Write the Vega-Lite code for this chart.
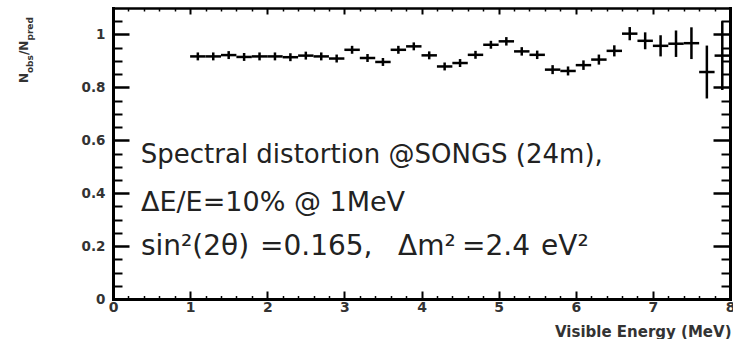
{
  "$schema": "https://vega.github.io/schema/vega-lite/v6.json",
  "width": 617,
  "height": 291,
  "autosize": "none",
  "padding": {"left": 113, "top": 8, "right": 3, "bottom": 40},
  "background": "white",
  "view": {"stroke": null},
  "config": {"font": "DejaVu Sans", "text": {"font": "DejaVu Sans", "fontSize": 27, "color": "#222", "align": "left", "baseline": "alphabetic"}},
  "datasets": {
    "ratio": [
      {"e": 1.1, "e_lo": 1.0, "e_hi": 1.2, "ratio": 0.917, "err": 0.015},
      {"e": 1.3, "e_lo": 1.2, "e_hi": 1.4, "ratio": 0.917, "err": 0.015},
      {"e": 1.5, "e_lo": 1.4, "e_hi": 1.6, "ratio": 0.922, "err": 0.015},
      {"e": 1.7, "e_lo": 1.6, "e_hi": 1.8, "ratio": 0.915, "err": 0.015},
      {"e": 1.9, "e_lo": 1.8, "e_hi": 2.0, "ratio": 0.917, "err": 0.015},
      {"e": 2.1, "e_lo": 2.0, "e_hi": 2.2, "ratio": 0.917, "err": 0.015},
      {"e": 2.3, "e_lo": 2.2, "e_hi": 2.4, "ratio": 0.914, "err": 0.015},
      {"e": 2.5, "e_lo": 2.4, "e_hi": 2.6, "ratio": 0.920, "err": 0.015},
      {"e": 2.7, "e_lo": 2.6, "e_hi": 2.8, "ratio": 0.917, "err": 0.015},
      {"e": 2.9, "e_lo": 2.8, "e_hi": 3.0, "ratio": 0.909, "err": 0.015},
      {"e": 3.1, "e_lo": 3.0, "e_hi": 3.2, "ratio": 0.942, "err": 0.015},
      {"e": 3.3, "e_lo": 3.2, "e_hi": 3.4, "ratio": 0.911, "err": 0.015},
      {"e": 3.5, "e_lo": 3.4, "e_hi": 3.6, "ratio": 0.896, "err": 0.015},
      {"e": 3.7, "e_lo": 3.6, "e_hi": 3.8, "ratio": 0.942, "err": 0.015},
      {"e": 3.9, "e_lo": 3.8, "e_hi": 4.0, "ratio": 0.955, "err": 0.015},
      {"e": 4.1, "e_lo": 4.0, "e_hi": 4.2, "ratio": 0.921, "err": 0.015},
      {"e": 4.3, "e_lo": 4.2, "e_hi": 4.4, "ratio": 0.879, "err": 0.015},
      {"e": 4.5, "e_lo": 4.4, "e_hi": 4.6, "ratio": 0.892, "err": 0.015},
      {"e": 4.7, "e_lo": 4.6, "e_hi": 4.8, "ratio": 0.923, "err": 0.015},
      {"e": 4.9, "e_lo": 4.8, "e_hi": 5.0, "ratio": 0.961, "err": 0.015},
      {"e": 5.1, "e_lo": 5.0, "e_hi": 5.2, "ratio": 0.974, "err": 0.016},
      {"e": 5.3, "e_lo": 5.2, "e_hi": 5.4, "ratio": 0.936, "err": 0.016},
      {"e": 5.5, "e_lo": 5.4, "e_hi": 5.6, "ratio": 0.923, "err": 0.016},
      {"e": 5.7, "e_lo": 5.6, "e_hi": 5.8, "ratio": 0.867, "err": 0.017},
      {"e": 5.9, "e_lo": 5.8, "e_hi": 6.0, "ratio": 0.862, "err": 0.017},
      {"e": 6.1, "e_lo": 6.0, "e_hi": 6.2, "ratio": 0.884, "err": 0.018},
      {"e": 6.3, "e_lo": 6.2, "e_hi": 6.4, "ratio": 0.905, "err": 0.019},
      {"e": 6.5, "e_lo": 6.4, "e_hi": 6.6, "ratio": 0.938, "err": 0.021},
      {"e": 6.7, "e_lo": 6.6, "e_hi": 6.8, "ratio": 1.003, "err": 0.025},
      {"e": 6.9, "e_lo": 6.8, "e_hi": 7.0, "ratio": 0.976, "err": 0.032},
      {"e": 7.1, "e_lo": 7.0, "e_hi": 7.2, "ratio": 0.957, "err": 0.040},
      {"e": 7.3, "e_lo": 7.2, "e_hi": 7.4, "ratio": 0.965, "err": 0.050},
      {"e": 7.5, "e_lo": 7.4, "e_hi": 7.6, "ratio": 0.967, "err": 0.060},
      {"e": 7.7, "e_lo": 7.6, "e_hi": 7.8, "ratio": 0.858, "err": 0.100},
      {"e": 7.9, "e_lo": 7.8, "e_hi": 8.0, "ratio": 0.920, "err": 0.130}
    ]
  },
  "layer": [
    {
      "data": {"name": "ratio"},
      "mark": {"type": "rule", "strokeWidth": 2.5, "color": "black"},
      "encoding": {
        "x": {
          "field": "e_lo", "type": "quantitative",
          "scale": {"domain": [0, 8], "nice": false, "zero": false},
          "axis": {
            "orient": "bottom", "values": [0, 1, 2, 3, 4, 5, 6, 7, 8], "format": "d",
            "ticks": false, "grid": false, "domain": true, "domainWidth": 3, "domainColor": "black", "domainCap": "square",
            "labelFont": "DejaVu Sans", "labelFontWeight": "bold", "labelFontSize": 14, "labelColor": "#333",
            "labelPadding": 1, "labelFlush": false, "labelOverlap": false,
            "title": "Visible Energy (MeV)", "titleFont": "DejaVu Sans", "titleFontWeight": "bold", "titleFontSize": 15,
            "titleColor": "#333", "titleAnchor": null, "titleAlign": "right", "titleBaseline": "alphabetic",
            "titleX": 618, "titleY": 37
          }
        },
        "x2": {"field": "e_hi"},
        "y": {
          "field": "ratio", "type": "quantitative",
          "scale": {"domain": [0, 1.1], "nice": false, "zero": false},
          "axis": {
            "orient": "left", "values": [0, 0.2, 0.4, 0.6, 0.8, 1], "format": "~g",
            "ticks": false, "grid": false, "domain": true, "domainWidth": 3, "domainColor": "black", "domainCap": "square",
            "labelFont": "DejaVu Sans", "labelFontWeight": "bold", "labelFontSize": 13.5, "labelColor": "#333",
            "labelPadding": 8, "labelFlush": false, "labelOverlap": false, "title": null
          }
        }
      }
    },
    {
      "data": {"name": "ratio"},
      "mark": {"type": "errorbar", "thickness": 2.5, "color": "black"},
      "encoding": {
        "x": {
          "field": "e", "type": "quantitative",
          "scale": {"domain": [0, 8], "nice": false, "zero": false},
          "axis": {"orient": "bottom", "values": [0, 1, 2, 3, 4, 5, 6, 7, 8], "labels": false, "domain": false, "grid": false,
                   "tickSize": -8, "tickWidth": 2, "tickColor": "black", "title": null}
        },
        "y": {
          "field": "ratio", "type": "quantitative",
          "scale": {"domain": [0, 1.1], "nice": false, "zero": false},
          "axis": {"orient": "left", "values": [0, 0.2, 0.4, 0.6, 0.8, 1], "labels": false, "domain": false, "grid": false,
                   "tickSize": -16, "tickWidth": 2.5, "tickColor": "black", "title": null}
        },
        "yError": {"field": "err"}
      }
    },
    {
      "data": {"values": [{}]},
      "mark": {"type": "text", "text": "Spectral distortion @SONGS (24m),", "fontSize": 26},
      "encoding": {
        "x": {
          "datum": 0.36, "type": "quantitative",
          "scale": {"domain": [0, 8], "nice": false, "zero": false},
          "axis": {"orient": "top", "values": [0, 1, 2, 3, 4, 5, 6, 7, 8], "labels": false, "grid": false,
                   "domain": true, "domainWidth": 2.5, "domainColor": "black",
                   "tickSize": -6, "tickWidth": 2, "tickColor": "black", "title": null}
        },
        "y": {
          "datum": 0.514, "type": "quantitative",
          "scale": {"domain": [0, 1.1], "nice": false, "zero": false},
          "axis": {"orient": "right", "values": [0, 0.2, 0.4, 0.6, 0.8, 1], "labels": false, "grid": false,
                   "domain": true, "domainWidth": 3, "domainColor": "black", "domainCap": "square",
                   "tickSize": -17, "tickWidth": 2.5, "tickColor": "black", "title": null}
        }
      }
    },
    {
      "data": {"values": [{}]},
      "mark": {"type": "text", "text": "ΔE/E=10% @ 1MeV"},
      "encoding": {
        "x": {
          "datum": 0.363, "type": "quantitative",
          "scale": {"domain": [0, 8], "nice": false, "zero": false},
          "axis": {"orient": "top",
                   "values": [0.2, 0.4, 0.6, 0.8, 1.2, 1.4, 1.6, 1.8, 2.2, 2.4, 2.6, 2.8, 3.2, 3.4, 3.6, 3.8, 4.2, 4.4, 4.6, 4.8, 5.2, 5.4, 5.6, 5.8, 6.2, 6.4, 6.6, 6.8, 7.2, 7.4, 7.6, 7.8],
                   "labels": false, "grid": false, "domain": false,
                   "tickSize": -3, "tickWidth": 1.5, "tickColor": "black", "title": null}
        },
        "y": {
          "datum": 0.333, "type": "quantitative",
          "scale": {"domain": [0, 1.1], "nice": false, "zero": false},
          "axis": {"orient": "right",
                   "values": [0.05, 0.1, 0.15, 0.25, 0.3, 0.35, 0.45, 0.5, 0.55, 0.65, 0.7, 0.75, 0.85, 0.9, 0.95, 1.05],
                   "labels": false, "grid": false, "domain": false,
                   "tickSize": -9, "tickWidth": 2, "tickColor": "black", "title": null}
        }
      }
    },
    {
      "data": {"values": [{}]},
      "mark": {"type": "text", "text": "sin²(2θ)", "fontSize": 28},
      "encoding": {
        "x": {
          "datum": 0.363, "type": "quantitative",
          "scale": {"domain": [0, 8], "nice": false, "zero": false},
          "axis": {"orient": "bottom",
                   "values": [0.2, 0.4, 0.6, 0.8, 1.2, 1.4, 1.6, 1.8, 2.2, 2.4, 2.6, 2.8, 3.2, 3.4, 3.6, 3.8, 4.2, 4.4, 4.6, 4.8, 5.2, 5.4, 5.6, 5.8, 6.2, 6.4, 6.6, 6.8, 7.2, 7.4, 7.6, 7.8],
                   "labels": false, "grid": false, "domain": false,
                   "tickSize": -3.5, "tickWidth": 1.5, "tickColor": "black", "title": null}
        },
        "y": {
          "datum": 0.166, "type": "quantitative",
          "scale": {"domain": [0, 1.1], "nice": false, "zero": false},
          "axis": {"orient": "left",
                   "values": [0.05, 0.1, 0.15, 0.25, 0.3, 0.35, 0.45, 0.5, 0.55, 0.65, 0.7, 0.75, 0.85, 0.9, 0.95, 1.05],
                   "labels": false, "grid": false, "domain": false,
                   "tickSize": -9, "tickWidth": 2, "tickColor": "black", "title": null}
        }
      }
    },
    {
      "data": {"values": [{}]},
      "mark": {"type": "text", "text": "=0.165,", "fontSize": 28},
      "encoding": {
        "x": {"datum": 1.906, "type": "quantitative", "scale": {"domain": [0, 8], "nice": false, "zero": false}, "axis": null},
        "y": {"datum": 0.166, "type": "quantitative", "scale": {"domain": [0, 1.1], "nice": false, "zero": false}, "axis": null}
      }
    },
    {
      "data": {"values": [{}]},
      "mark": {"type": "text", "text": "Δm²", "fontSize": 28},
      "encoding": {
        "x": {"datum": 3.695, "type": "quantitative", "scale": {"domain": [0, 8], "nice": false, "zero": false}, "axis": null},
        "y": {"datum": 0.166, "type": "quantitative", "scale": {"domain": [0, 1.1], "nice": false, "zero": false}, "axis": null}
      }
    },
    {
      "data": {"values": [{}]},
      "mark": {"type": "text", "text": "=2.4", "fontSize": 28},
      "encoding": {
        "x": {"datum": 4.525, "type": "quantitative", "scale": {"domain": [0, 8], "nice": false, "zero": false}, "axis": null},
        "y": {"datum": 0.166, "type": "quantitative", "scale": {"domain": [0, 1.1], "nice": false, "zero": false}, "axis": null}
      }
    },
    {
      "data": {"values": [{}]},
      "mark": {"type": "text", "text": "eV²", "fontSize": 28},
      "encoding": {
        "x": {"datum": 5.55, "type": "quantitative", "scale": {"domain": [0, 8], "nice": false, "zero": false}, "axis": null},
        "y": {"datum": 0.166, "type": "quantitative", "scale": {"domain": [0, 1.1], "nice": false, "zero": false}, "axis": null}
      }
    },
    {
      "data": {"values": [{}]},
      "mark": {"type": "text", "text": "N", "fontWeight": "bold", "fontSize": 12, "color": "#333", "angle": 270},
      "encoding": {
        "x": {"datum": -1.096, "type": "quantitative", "scale": {"domain": [0, 8], "nice": false, "zero": false}, "axis": null},
        "y": {"datum": 0.8165, "type": "quantitative", "scale": {"domain": [0, 1.1], "nice": false, "zero": false}, "axis": null}
      }
    },
    {
      "data": {"values": [{}]},
      "mark": {"type": "text", "text": "obs", "fontWeight": "bold", "fontSize": 9, "color": "#333", "angle": 270},
      "encoding": {
        "x": {"datum": -1.037, "type": "quantitative", "scale": {"domain": [0, 8], "nice": false, "zero": false}, "axis": null},
        "y": {"datum": 0.854, "type": "quantitative", "scale": {"domain": [0, 1.1], "nice": false, "zero": false}, "axis": null}
      }
    },
    {
      "data": {"values": [{}]},
      "mark": {"type": "text", "text": "/N", "fontWeight": "bold", "fontSize": 12, "color": "#333", "angle": 270},
      "encoding": {
        "x": {"datum": -1.096, "type": "quantitative", "scale": {"domain": [0, 8], "nice": false, "zero": false}, "axis": null},
        "y": {"datum": 0.922, "type": "quantitative", "scale": {"domain": [0, 1.1], "nice": false, "zero": false}, "axis": null}
      }
    },
    {
      "data": {"values": [{}]},
      "mark": {"type": "text", "text": "pred", "fontWeight": "bold", "fontSize": 9, "color": "#333", "angle": 270},
      "encoding": {
        "x": {"datum": -1.037, "type": "quantitative", "scale": {"domain": [0, 8], "nice": false, "zero": false}, "axis": null},
        "y": {"datum": 0.977, "type": "quantitative", "scale": {"domain": [0, 1.1], "nice": false, "zero": false}, "axis": null}
      }
    }
  ],
  "resolve": {"axis": {"x": "independent", "y": "independent"}}
}
